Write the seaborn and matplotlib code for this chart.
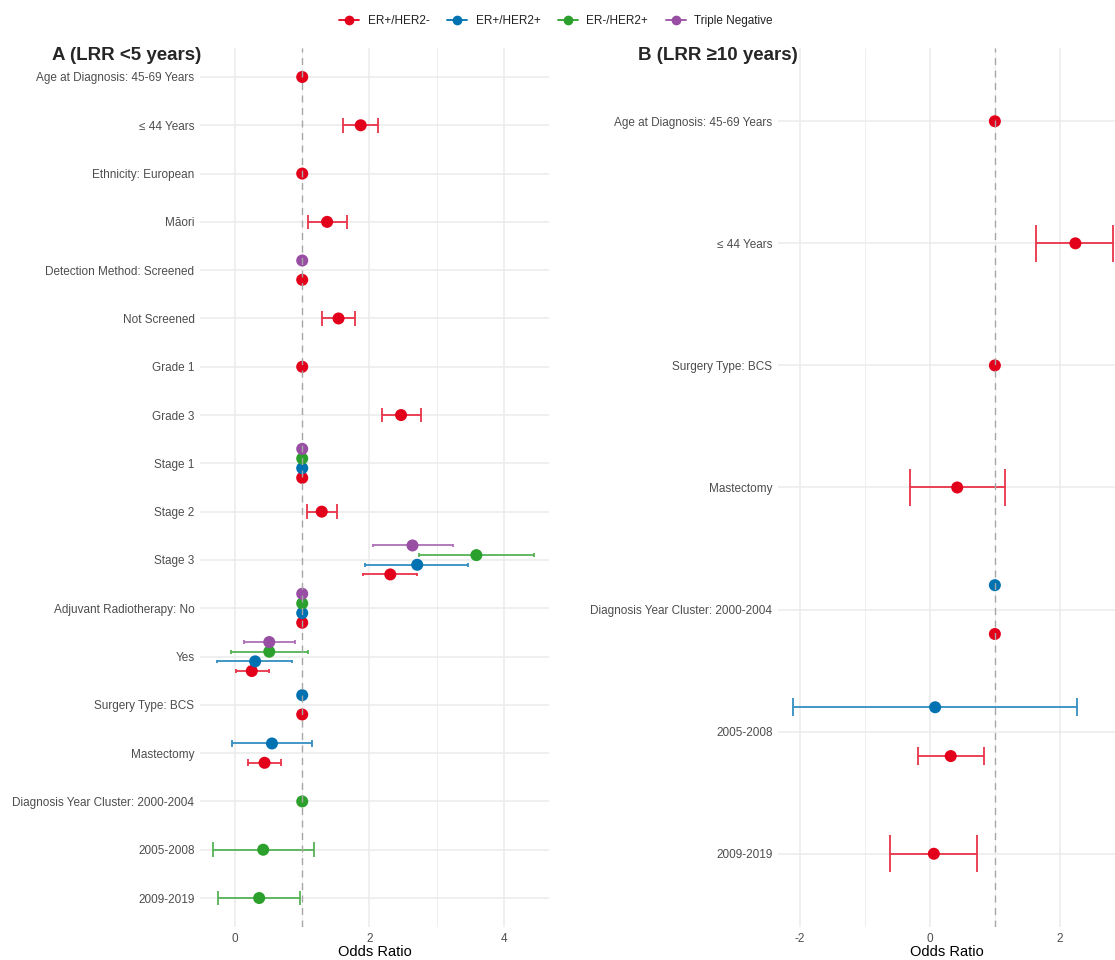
import numpy as np
import pandas as pd
import matplotlib
matplotlib.use("Agg")
import matplotlib.pyplot as plt
from matplotlib.lines import Line2D
from matplotlib.ticker import FixedLocator
from matplotlib.colors import to_rgb
import seaborn as sns

# Subtype groups and their colours
groups = ["ER+/HER2-", "ER+/HER2+", "ER-/HER2+", "Triple Negative"]
colors = ["#E3001B", "#0072B2", "#2CA02C", "#984EA3"]

# Panel A: local-regional recurrence within 5 years
a_term = [
    "Age at Diagnosis: 45-69 Years",
    "≤ 44 Years",
    "Ethnicity: European",
    "Māori",
    "Detection Method: Screened", "Detection Method: Screened",
    "Not Screened",
    "Grade 1",
    "Grade 3",
    "Stage 1", "Stage 1", "Stage 1", "Stage 1",
    "Stage 2",
    "Stage 3", "Stage 3", "Stage 3", "Stage 3",
    "Adjuvant Radiotherapy: No", "Adjuvant Radiotherapy: No",
    "Adjuvant Radiotherapy: No", "Adjuvant Radiotherapy: No",
    "Yes", "Yes", "Yes", "Yes",
    "Surgery Type: BCS", "Surgery Type: BCS",
    "Mastectomy", "Mastectomy",
    "Diagnosis Year Cluster: 2000-2004",
    "2005-2008",
    "2009-2019",
]
a_group = [
    "ER+/HER2-",
    "ER+/HER2-",
    "ER+/HER2-",
    "ER+/HER2-",
    "ER+/HER2-", "Triple Negative",
    "ER+/HER2-",
    "ER+/HER2-",
    "ER+/HER2-",
    "ER+/HER2-", "ER+/HER2+", "ER-/HER2+", "Triple Negative",
    "ER+/HER2-",
    "ER+/HER2-", "ER+/HER2+", "ER-/HER2+", "Triple Negative",
    "ER+/HER2-", "ER+/HER2+", "ER-/HER2+", "Triple Negative",
    "ER+/HER2-", "ER+/HER2+", "ER-/HER2+", "Triple Negative",
    "ER+/HER2-", "ER+/HER2+",
    "ER+/HER2-", "ER+/HER2+",
    "ER-/HER2+",
    "ER-/HER2+",
    "ER-/HER2+",
]
a_or = [1, 1.87, 1, 1.37, 1, 1, 1.54, 1, 2.47,
        1, 1, 1, 1, 1.29, 2.31, 2.71, 3.59, 2.64,
        1, 1, 1, 1, 0.25, 0.30, 0.51, 0.51,
        1, 1, 0.44, 0.55, 1, 0.42, 0.36]
a_lo = [1, 1.60, 1, 1.08, 1, 1, 1.30, 1, 2.18,
        1, 1, 1, 1, 1.07, 1.90, 1.94, 2.73, 2.05,
        1, 1, 1, 1, 0.02, -0.26, -0.06, 0.14,
        1, 1, 0.19, -0.04, 1, -0.33, -0.25]
a_hi = [1, 2.13, 1, 1.66, 1, 1, 1.79, 1, 2.76,
        1, 1, 1, 1, 1.51, 2.71, 3.47, 4.45, 3.24,
        1, 1, 1, 1, 0.50, 0.85, 1.09, 0.89,
        1, 1, 0.69, 1.14, 1, 1.17, 0.97]

# Panel B: local-regional recurrence at 10 years or later
b_term = [
    "Age at Diagnosis: 45-69 Years",
    "≤ 44 Years",
    "Surgery Type: BCS",
    "Mastectomy",
    "Diagnosis Year Cluster: 2000-2004", "Diagnosis Year Cluster: 2000-2004",
    "2005-2008", "2005-2008",
    "2009-2019",
]
b_group = ["ER+/HER2-", "ER+/HER2-", "ER+/HER2-", "ER+/HER2-",
           "ER+/HER2-", "ER+/HER2+", "ER+/HER2-", "ER+/HER2+", "ER+/HER2-"]
b_or = [1, 2.24, 1, 0.42, 1, 1, 0.32, 0.08, 0.06]
b_lo = [1, 1.64, 1, -0.31, 1, 1, -0.19, -2.11, -0.62]
b_hi = [1, 2.82, 1, 1.15, 1, 1, 0.83, 2.27, 0.73]

DODGE = 0.8
CAP = 0.3


def build(term, group, orr, lo, hi):
    df = pd.DataFrame({"term": term, "group": group, "or": orr, "lo": lo, "hi": hi})
    rows = list(pd.unique(df["term"]))
    df["row"] = df["term"].map({t: i for i, t in enumerate(rows)})
    df["gidx"] = df["group"].map({g: i for i, g in enumerate(groups)})
    df = df.sort_values(["row", "gidx"]).reset_index(drop=True)
    df["n"] = df.groupby("row")["group"].transform("count")
    df["rank"] = df.groupby("row").cumcount()
    df["ypos"] = df["row"] + ((df["n"] - 1) / 2 - df["rank"]) * DODGE / df["n"]
    df["capw"] = CAP / df["n"]
    return df, rows


def lighten(c, f=0.2):
    r, g, b = to_rgb(c)
    return (r + (1 - r) * f, g + (1 - g) * f, b + (1 - b) * f)


sns.set_style("white")
plt.rcParams["font.family"] = ["Liberation Sans", "DejaVu Sans"]
plt.rcParams["axes.unicode_minus"] = False

pal = dict(zip(groups, colors))

fig = plt.figure(figsize=(11.15, 9.6), dpi=100)
W, H = 1115, 960
axA = fig.add_axes([200 / W, 33 / H, 349 / W, 879 / H])
axB = fig.add_axes([778 / W, 33 / H, 337 / W, 879 / H])


def draw(ax, df, rows, xlim, major, minor):
    ax.set_xlim(*xlim)
    ax.set_ylim(len(rows) - 1 + 0.6, -0.6)
    ax.set_yticks(range(len(rows)))
    ax.set_yticklabels(rows)
    ax.xaxis.set_major_locator(FixedLocator(major))
    ax.xaxis.set_minor_locator(FixedLocator(minor))
    ax.grid(which="major", color="#EBEBEB", lw=1.1, zorder=0)
    ax.grid(which="minor", axis="x", color="#EBEBEB", lw=0.6, zorder=0)
    ax.set_axisbelow(True)
    for s in ax.spines.values():
        s.set_visible(False)
    ax.tick_params(axis="both", which="both", length=0, labelsize=8.5,
                   labelcolor="#4D4D4D")
    ax.tick_params(axis="x", pad=4)
    ax.tick_params(axis="y", pad=4)

    # confidence intervals (reference categories have none)
    ci = df[df["lo"] != df["hi"]]
    ecol = [lighten(pal[g]) for g in ci["group"]]
    ax.hlines(ci["ypos"], ci["lo"], ci["hi"], colors=ecol, lw=1.3, zorder=2)
    for xcol in ("lo", "hi"):
        ax.vlines(ci[xcol], ci["ypos"] - ci["capw"] / 2, ci["ypos"] + ci["capw"] / 2,
                  colors=ecol, lw=1.3, zorder=2)
    sns.scatterplot(data=df, x="or", y="ypos", hue="group", hue_order=groups,
                    palette=pal, s=75, edgecolor="none", linewidth=0,
                    legend=False, ax=ax, zorder=3)

    # null line at OR = 1, drawn over the markers
    ax.axvline(1, color="#A6A6A6", lw=1.0, ls=(0, (5, 4)), zorder=5)

    ax.set_xlabel("Odds Ratio", fontsize=10.5, color="black", labelpad=0)
    ax.set_ylabel("")


dfA, rowsA = build(a_term, a_group, a_or, a_lo, a_hi)
dfB, rowsB = build(b_term, b_group, b_or, b_lo, b_hi)
draw(axA, dfA, rowsA, (-0.52, 4.67), [0, 2, 4], [1, 3])
draw(axB, dfB, rowsB, (-2.34, 2.85), [-2, 0, 2], [-1, 1])

fig.text(52 / W, 1 - 56 / H, "A (LRR <5 years)", fontsize=13.5,
         fontweight="bold", ha="left", va="center")
fig.text(638 / W, 1 - 56 / H, "B (LRR ≥10 years)", fontsize=13.5,
         fontweight="bold", ha="left", va="center")

handles = [Line2D([0], [0], color=c, marker="o", markersize=7, lw=1.3,
                  markeredgewidth=0) for c in colors]
fig.legend(handles, groups, loc="center", bbox_to_anchor=(556 / W, 1 - 21 / H),
           ncol=4, frameon=False, fontsize=8.5, handlelength=1.7,
           handletextpad=0.7, columnspacing=1.5, labelcolor="#222222")

fig.savefig("out.png", dpi=100)
